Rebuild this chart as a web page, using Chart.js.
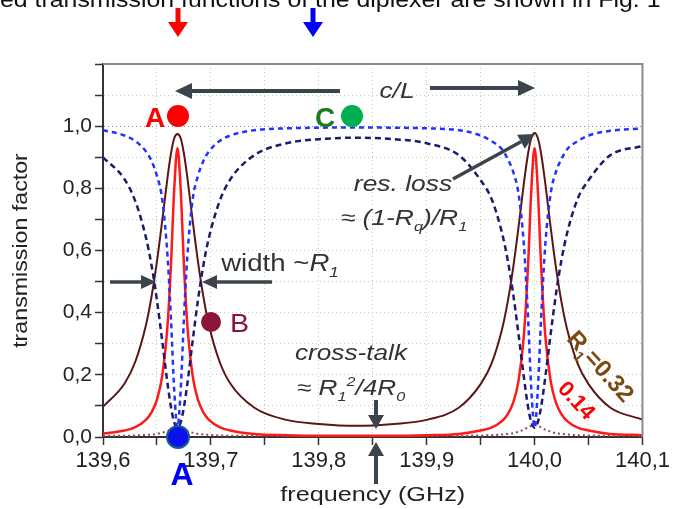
<!DOCTYPE html>
<html>
<head>
<meta charset="utf-8">
<script src="https://cdn.jsdelivr.net/npm/chart.js@4.4.0/dist/chart.umd.min.js"></script>
<style>
  html, body { margin: 0; padding: 0; background: #fff; overflow: hidden; }
</style>
</head>
<body>
<canvas id="diplexer" width="673" height="509"></canvas>
<script>
// ---- data ----
const freq = [139.60, 139.62, 139.63, 139.64, 139.645, 139.65, 139.655, 139.66, 139.663, 139.666,
  139.669, 139.672, 139.675, 139.678, 139.683, 139.688, 139.693, 139.698, 139.708, 139.718,
  139.74, 139.77, 139.80, 139.835, 139.87, 139.90, 139.93, 139.95, 139.96, 139.97,
  139.975, 139.98, 139.985, 139.99, 139.994, 139.997, 140.00, 140.003, 140.006, 140.01,
  140.015, 140.02, 140.025, 140.03, 140.04, 140.05, 140.07, 140.10];

// transmission through the resonator, R1 = 0.14 (red)
const transR014 = [0.011, 0.021, 0.032, 0.056, 0.079, 0.12, 0.199, 0.369, 0.555, 0.796,
  0.93, 0.796, 0.555, 0.369, 0.199, 0.12, 0.079, 0.056, 0.032, 0.021,
  0.010, 0.006, 0.004, 0.004, 0.004, 0.006, 0.010, 0.021, 0.030, 0.052,
  0.073, 0.109, 0.178, 0.323, 0.555, 0.796, 0.93, 0.796, 0.555, 0.323,
  0.178, 0.109, 0.073, 0.052, 0.030, 0.021, 0.010, 0.006];

// transmission through the resonator, R1 = 0.32 (dark brown)
const transR032 = [0.097, 0.172, 0.243, 0.363, 0.452, 0.565, 0.699, 0.84, 0.912, 0.961,
  0.975, 0.961, 0.912, 0.84, 0.699, 0.565, 0.452, 0.363, 0.243, 0.172,
  0.095, 0.055, 0.042, 0.036, 0.042, 0.055, 0.095, 0.17, 0.235, 0.349,
  0.433, 0.541, 0.672, 0.814, 0.913, 0.962, 0.978, 0.962, 0.913, 0.814,
  0.672, 0.541, 0.433, 0.349, 0.235, 0.17, 0.095, 0.056];

// other port, R1 = 0.14 (blue dashed)
const otherR014 = [0.987, 0.97, 0.952, 0.918, 0.888, 0.84, 0.762, 0.572, 0.38, 0.151,
  0.031, 0.151, 0.38, 0.572, 0.762, 0.84, 0.888, 0.918, 0.952, 0.97,
  0.987, 0.993, 0.995, 0.996, 0.995, 0.993, 0.987, 0.97, 0.952, 0.925,
  0.895, 0.855, 0.785, 0.622, 0.38, 0.151, 0.031, 0.151, 0.38, 0.622,
  0.785, 0.855, 0.895, 0.925, 0.952, 0.97, 0.985, 0.993];

// other port, R1 = 0.32 (navy dashed)
const otherR032 = [0.90, 0.829, 0.758, 0.639, 0.552, 0.44, 0.306, 0.167, 0.096, 0.047,
  0.03, 0.047, 0.096, 0.167, 0.306, 0.44, 0.552, 0.639, 0.758, 0.829,
  0.906, 0.945, 0.958, 0.963, 0.958, 0.945, 0.906, 0.826, 0.767, 0.654,
  0.571, 0.464, 0.334, 0.194, 0.096, 0.047, 0.03, 0.047, 0.096, 0.194,
  0.334, 0.464, 0.571, 0.654, 0.767, 0.826, 0.906, 0.936];

// cross-talk (brown dotted)
const crossTalk = [0.004, 0.004, 0.005, 0.007, 0.008, 0.010, 0.014, 0.019, 0.023, 0.027,
  0.028, 0.027, 0.023, 0.019, 0.014, 0.010, 0.008, 0.007, 0.005, 0.004,
  0.004, 0.0035, 0.003, 0.003, 0.003, 0.0035, 0.004, 0.005, 0.006, 0.008,
  0.010, 0.012, 0.017, 0.024, 0.031, 0.036, 0.038, 0.036, 0.031, 0.024,
  0.017, 0.012, 0.010, 0.008, 0.006, 0.005, 0.004, 0.0035];

const xRange = [139.6, 140.1];
const yRange = [0, 1.2];
const xTitle = 'frequency (GHz)';
const yTitle = 'transmission factor';

const FONT = '"Liberation Sans", Arial, sans-serif';
const toPts = ys => freq.map((f, i) => ({ x: f, y: ys[i] }));
const comma = v => v.toFixed(1).replace('.', ',');

// ---- drawing helpers for the annotations ----
function rich(ctx, parts, x, y, o) {
  const size = o.size, sx = o.sx || 1;
  ctx.save();
  ctx.translate(x, y);
  if (o.rot) ctx.rotate(o.rot * Math.PI / 180);
  ctx.scale(sx, 1);
  let w = 0;
  const fonts = parts.map(p => {
    const s = (p.sub || p.sup) ? size * 0.62 : size;
    const f = (p.i ? 'italic ' : '') + (o.bold ? 'bold ' : '') + s + 'px ' + FONT;
    ctx.font = f;
    const pw = ctx.measureText(p.t).width;
    w += pw;
    return { f, pw };
  });
  let cx = o.align === 'left' ? 0 : -w / 2;
  const dy0 = o.rot ? size * 0.35 : 0;
  ctx.fillStyle = o.color;
  ctx.textAlign = 'left';
  ctx.textBaseline = 'alphabetic';
  parts.forEach((p, i) => {
    ctx.font = fonts[i].f;
    const dy = p.sub ? size * 0.28 : p.sup ? -size * 0.42 : 0;
    ctx.fillText(p.t, cx, dy + dy0);
    cx += fonts[i].pw;
  });
  ctx.restore();
}

function arrow(ctx, x1, y1, x2, y2, color, lw, hl, hw) {
  const a = Math.atan2(y2 - y1, x2 - x1);
  const bx = x2 - hl * Math.cos(a), by = y2 - hl * Math.sin(a);
  ctx.save();
  ctx.strokeStyle = color; ctx.fillStyle = color; ctx.lineWidth = lw;
  ctx.beginPath(); ctx.moveTo(x1, y1); ctx.lineTo(bx, by); ctx.stroke();
  ctx.beginPath();
  ctx.moveTo(x2, y2);
  ctx.lineTo(bx + hw * Math.sin(a), by - hw * Math.cos(a));
  ctx.lineTo(bx - hw * Math.sin(a), by + hw * Math.cos(a));
  ctx.closePath(); ctx.fill();
  ctx.restore();
}

function dot(ctx, x, y, r, fill, stroke) {
  ctx.save();
  ctx.beginPath(); ctx.arc(x, y, r, 0, Math.PI * 2);
  ctx.fillStyle = fill; ctx.fill();
  if (stroke) { ctx.strokeStyle = stroke; ctx.lineWidth = 2; ctx.stroke(); }
  ctx.restore();
}

const overlay = {
  id: 'overlay',
  afterDraw(chart) {
    const { ctx, chartArea: a } = chart;
    const grey = '#3b444b';

    // frame on top and right
    ctx.save();
    ctx.strokeStyle = '#8a8a8a'; ctx.lineWidth = 2;
    ctx.beginPath(); ctx.moveTo(a.left, a.top); ctx.lineTo(a.right, a.top); ctx.lineTo(a.right, a.bottom); ctx.stroke();
    ctx.restore();

    // axis titles (stretched like the original)
    rich(ctx, [{ t: xTitle }], (a.left + a.right) / 2, 501, { size: 21, sx: 1.2, color: '#222' });
    rich(ctx, [{ t: yTitle }], 20, (a.top + a.bottom) / 2, { size: 20, sx: 1.16, rot: -90, color: '#222' });

    // cut line of the paper text above the figure
    rich(ctx, [{ t: 'ed transmission functions of the diplexer are shown in Fig. 1' }], 0, 7,
      { size: 22, color: '#111', align: 'left', sx: 1.13 });

    // channel arrows on top
    arrow(ctx, 178, 8, 178, 37, '#ff0000', 5, 15, 10);
    arrow(ctx, 313, 8, 313, 37, '#0000ff', 5, 15, 10);

    // c/L
    arrow(ctx, 340, 91, 175, 91, grey, 4, 17, 8);
    arrow(ctx, 430, 88, 535, 88, grey, 4, 17, 8);
    rich(ctx, [{ t: 'c/L', i: true }], 397, 98, { size: 22, sx: 1.2, color: '#333' });

    // ports A and C
    rich(ctx, [{ t: 'A' }], 155, 127, { size: 28, bold: true, color: '#ff0000' });
    dot(ctx, 178, 116, 11, '#ff0000');
    rich(ctx, [{ t: 'C' }], 325, 127, { size: 28, bold: true, color: '#1e7b1e' });
    dot(ctx, 352, 116, 11, '#00b050');

    // resonance loss
    arrow(ctx, 453, 179, 535, 134, grey, 3.5, 16, 8);
    rich(ctx, [{ t: 'res. loss', i: true }], 403, 191, { size: 22, sx: 1.2, color: '#333' });
    rich(ctx, [{ t: '\u2248 (1-R', i: true }, { t: 'q', i: true, sub: true }, { t: ')/R', i: true }, { t: '1', i: true, sub: true }],
      404, 225, { size: 22, sx: 1.2, color: '#333' });

    // width
    rich(ctx, [{ t: 'width ~' }, { t: 'R', i: true }, { t: '1', i: true, sub: true }], 280, 271,
      { size: 23, sx: 1.2, color: '#333' });
    arrow(ctx, 110, 282, 156, 282, grey, 3.5, 15, 7);
    arrow(ctx, 272, 282, 202, 282, grey, 3.5, 15, 7);

    // port B
    dot(ctx, 211, 322, 10, '#8b1538');
    rich(ctx, [{ t: 'B' }], 230, 332, { size: 26, sx: 1.1, align: 'left', color: '#8b1538' });

    // cross-talk
    rich(ctx, [{ t: 'cross-talk', i: true }], 351, 360, { size: 22, sx: 1.19, color: '#333' });
    rich(ctx, [{ t: '\u2248 R', i: true }, { t: '1', i: true, sub: true }, { t: '2', i: true, sup: true },
      { t: '/4R', i: true }, { t: '0', i: true, sub: true }], 351, 395, { size: 22, sx: 1.19, color: '#333' });
    arrow(ctx, 376, 400, 376, 429, grey, 4, 14, 8);
    arrow(ctx, 376, 484, 376, 442, grey, 4, 14, 8);

    // port A (other side)
    dot(ctx, 178, 437, 11, '#0a10ee', '#1e5b8a');
    rich(ctx, [{ t: 'A' }], 182, 485, { size: 32, bold: true, color: '#0000ff' });

    // curve labels
    rich(ctx, [{ t: 'R' }, { t: '1', sub: true }, { t: '=0.32' }], 601, 366,
      { size: 24, bold: true, rot: 48, color: '#7a4a12' });
    rich(ctx, [{ t: '0.14' }], 577, 400, { size: 22, bold: true, rot: 47, color: '#ff0000' });
  }
};

const gridColor = c => (c.tick && Math.abs(c.tick.value - 1) < 1e-6) ? '#8c8c8c' : '#a9dca9';

new Chart(document.getElementById('diplexer'), {
  type: 'line',
  data: {
    datasets: [
      { data: toPts(otherR014), borderColor: '#2233ff', borderWidth: 2.5, borderDash: [5, 4] },
      { data: toPts(otherR032), borderColor: '#1c1c6e', borderWidth: 2.5, borderDash: [6, 4] },
      { data: toPts(transR014), borderColor: '#ff1a1a', borderWidth: 2.5 },
      { data: toPts(transR032), borderColor: '#5c1616', borderWidth: 2 },
      { data: toPts(crossTalk), borderColor: '#8b4a4a', borderWidth: 2, borderDash: [2, 3] }
    ]
  },
  options: {
    responsive: false,
    animation: false,
    devicePixelRatio: 1,
    layout: { padding: { left: 0, right: 29, top: 64, bottom: 0 } },
    elements: {
      point: { radius: 0 },
      line: { cubicInterpolationMode: 'monotone', fill: false }
    },
    plugins: { legend: { display: false }, tooltip: { enabled: false } },
    scales: {
      x: {
        type: 'linear',
        min: xRange[0], max: xRange[1],
        afterFit: s => { s.height = 72; },
        grid: { color: gridColor, lineWidth: 1, tickColor: '#333', tickLength: 8, tickWidth: 1.5 },
        border: { display: true, color: '#333', width: 2, dash: [1, 3] },
        ticks: {
          stepSize: 0.05,
          padding: 3,
          color: '#222',
          font: { family: FONT, size: 22 },
          maxRotation: 0,
          autoSkip: false,
          callback: v => (Math.abs(Math.round(v * 10) - v * 10) < 1e-6) ? comma(v) : ''
        }
      },
      y: {
        min: yRange[0], max: yRange[1],
        afterFit: s => { s.width = 103; },
        grid: { color: gridColor, lineWidth: 1, tickColor: '#333', tickLength: 8, tickWidth: 1.5 },
        border: { display: true, color: '#333', width: 2, dash: [1, 3] },
        ticks: {
          stepSize: 0.1,
          padding: 3,
          color: '#222',
          font: { family: FONT, size: 21 },
          autoSkip: false,
          callback: v => {
            const k = Math.round(v * 10);
            return (k % 2 === 0 && k <= 10) ? comma(v) : '';
          }
        }
      }
    }
  },
  plugins: [overlay]
});
</script>
</body>
</html>
